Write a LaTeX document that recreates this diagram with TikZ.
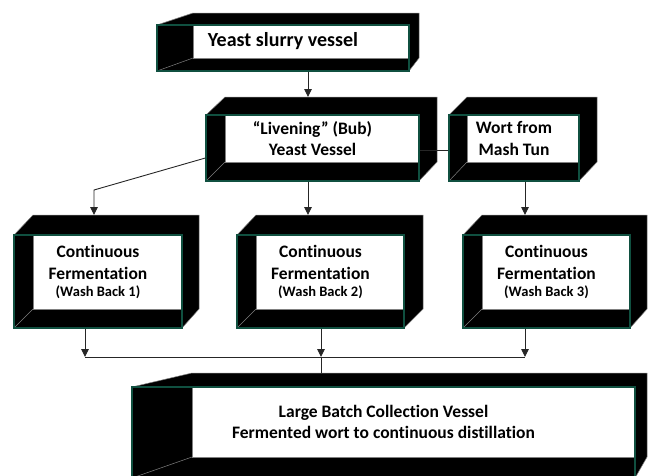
\documentclass[tikz,border=0pt]{standalone}
\usepackage{fontspec}
\setmainfont{Carlito}[Ligatures={TeX,NoCommon}]
\usetikzlibrary{arrows.meta}
\usetikzlibrary{calc}
\usetikzlibrary{fit}

\definecolor{rimgreen}{RGB}{16,80,64}
\definecolor{edgegray}{RGB}{128,128,128}

\tikzset{
  body/.style={fill=black, draw=edgegray, line width=0.5pt},
  backwall/.style={fill=white, draw=edgegray, line width=0.5pt},
  edge/.style={draw=edgegray, line width=0.5pt},
  front/.style={draw=rimgreen, line width=1.3pt, inner sep=0pt},
  vtext/.style={align=center, font=\bfseries\fontsize{17.5}{21.4}\selectfont},
  link/.style={draw=black!85, line width=0.9pt},
  arr/.style={link, -{Triangle[width=7.5pt,length=8pt]}},
}

% open box: name, front top-left, front bottom-right, back top-left, back bottom-right, text
\newcommand{\vessel}[6]{%
  \coordinate (#1-a) at (#2);
  \coordinate (#1-b) at (#3);
  \coordinate (#1-c) at (#4);
  \coordinate (#1-d) at (#5);
  \filldraw[body] (#1-a) -- (#1-c) -- (#1-c -| #1-d) -- (#1-d) -- (#1-b) -- (#1-a |- #1-b) -- cycle;
  \filldraw[backwall] (#1-c |- #1-a) rectangle (#1-b |- #1-d);
  \draw[edge] (#1-a |- #1-b) -- (#1-c |- #1-d);
  \node[front, fit=(#1-a)(#1-b)] (#1) {};
  \node[vtext] (#1-txt) at ($(#1-a)!.5!(#1-b |- #1-d)$) {#6};
}

\begin{document}
\begin{tikzpicture}[x=1pt, y=-1pt]
\useasboundingbox (0,0) rectangle (648,475);
\clip (0,0) rectangle (648,475);

\vessel{slurry}{157,25}{409,71}{193,13}{419,58}{\fontsize{20}{24}\selectfont Yeast slurry vessel}
\vessel{bub}{206,115}{419,181}{225,97}{437,162}{“Livening” (Bub)\\Yeast Vessel}
\vessel{wort}{449,115}{579,181}{467,97}{597,162}{Wort from\\Mash Tun}
\vessel{wb1}{14,235}{182,328}{33,215}{199,309}{Continuous\\Fermentation\\[-4pt]{\fontsize{14.5}{17}\selectfont (Wash Back 1)}}
\vessel{wb2}{237,235}{404,328}{256,215}{423,309}{Continuous\\Fermentation\\[-4pt]{\fontsize{14.5}{17}\selectfont (Wash Back 2)}}
\vessel{wb3}{463,235}{630,328}{482,215}{647,309}{Continuous\\Fermentation\\[-4pt]{\fontsize{14.5}{17}\selectfont (Wash Back 3)}}
\vessel{large}{132,387}{635,478}{192,373}{647,457}{Large Batch Collection Vessel\\Fermented wort to continuous distillation}

\coordinate (elbow) at (94,190);
\coordinate (busL) at (85,357);
\coordinate (busM) at (321,357);
\coordinate (busR) at (525,357);

\draw[arr] ([xshift=25pt]slurry.south) -- ([xshift=25pt]slurry.south |- bub-c);
\draw[arr] ([xshift=-4.5pt]bub.south) -- ([xshift=-4.5pt]bub.south |- wb2-c);
\draw[arr] ([yshift=-10pt]bub.west) -- (elbow) -- (elbow |- wb1-c);
\draw[link] ([yshift=-2pt]bub.east) -- ([yshift=-2pt]wort.west);
\draw[arr] (wort.south -| busR) -- (busR |- wb3-c);

\draw[arr] (wb1.south -| busL) -- (busL);
\draw[arr] (wb2.south -| busM) -- (busM);
\draw[arr] (wb3.south -| busR) -- (busR);
\draw[link] (busL) -- (busR);
\draw[link] (busM) -- (busM |- large-c);
\end{tikzpicture}
\end{document}
